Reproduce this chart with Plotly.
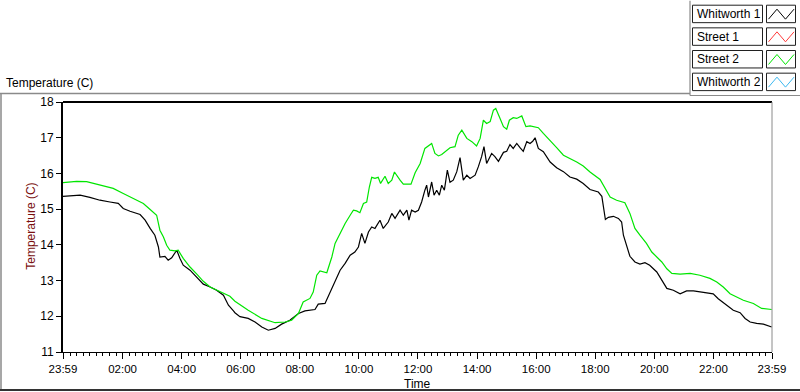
import plotly.graph_objects as go

# ---------------- data (hours since 23:59 start, temperature in C) ----------------
whitworth1_hours = [0.00, 0.58, 0.91, 1.25, 1.59, 1.87, 2.04, 2.27, 2.61, 2.78, 2.95, 3.11, 3.23, 3.28, 3.45,
                    3.56, 3.68, 3.79, 3.85, 3.96, 4.07, 4.30, 4.53, 4.75, 4.98, 5.20, 5.43, 5.60, 5.77, 5.82,
                    5.99, 6.27, 6.50, 6.73, 6.95, 7.18, 7.40, 7.68, 7.97, 8.19, 8.53, 8.64, 8.87, 9.04, 9.21,
                    9.38, 9.55, 9.72, 9.88, 10.00, 10.11, 10.22, 10.34, 10.45, 10.56, 10.73, 10.84, 11.01,
                    11.13, 11.24, 11.41, 11.52, 11.64, 11.71, 11.80, 11.92, 12.03, 12.14, 12.25, 12.31, 12.37,
                    12.48, 12.56, 12.65, 12.74, 12.82, 12.91, 13.01, 13.10, 13.21, 13.33, 13.44, 13.55, 13.67,
                    13.78, 13.95, 14.06, 14.17, 14.25, 14.34, 14.51, 14.62, 14.74, 14.91, 15.02, 15.13, 15.24,
                    15.36, 15.47, 15.58, 15.70, 15.81, 15.90, 15.98, 16.09, 16.26, 16.49, 16.71, 16.94, 17.16,
                    17.39, 17.61, 17.84, 18.12, 18.24, 18.31, 18.36, 18.46, 18.63, 18.80, 18.91, 18.97, 19.08,
                    19.19, 19.36, 19.53, 19.70, 19.86, 20.10, 20.27, 20.44, 20.66, 20.89, 21.11, 21.34, 21.68,
                    22.01, 22.18, 22.47, 22.69, 22.92, 23.09, 23.26, 23.48, 23.71, 23.99]
whitworth1_temp = [15.36, 15.39, 15.33, 15.25, 15.20, 15.16, 15.02, 14.94, 14.85, 14.69, 14.46, 14.27, 13.94,
                   13.66, 13.68, 13.57, 13.64, 13.80, 13.85, 13.62, 13.43, 13.29, 13.10, 12.90, 12.82, 12.73,
                   12.59, 12.31, 12.15, 12.10, 11.99, 11.94, 11.84, 11.70, 11.61, 11.66, 11.78, 11.89, 12.08,
                   12.15, 12.19, 12.34, 12.36, 12.68, 13.01, 13.29, 13.48, 13.71, 13.80, 13.94, 14.32, 14.04,
                   14.36, 14.50, 14.46, 14.69, 14.46, 14.64, 14.88, 14.74, 14.97, 14.83, 14.97, 14.69, 14.97,
                   14.92, 14.97, 15.20, 15.53, 15.67, 15.34, 15.76, 15.39, 15.53, 15.39, 15.67, 15.53, 16.09,
                   15.75, 15.81, 16.05, 16.44, 15.81, 15.95, 15.86, 15.95, 16.19, 16.47, 16.75, 16.28, 16.56,
                   16.47, 16.34, 16.59, 16.62, 16.81, 16.70, 16.84, 16.72, 16.62, 16.89, 16.84, 16.90, 17.00,
                   16.70, 16.61, 16.32, 16.16, 16.05, 15.90, 15.84, 15.72, 15.55, 15.48, 15.36, 14.97, 14.71,
                   14.77, 14.80, 14.74, 14.64, 14.27, 13.94, 13.68, 13.52, 13.46, 13.50, 13.43, 13.24, 13.01,
                   12.78, 12.73, 12.63, 12.71, 12.71, 12.67, 12.63, 12.49, 12.31, 12.17, 12.10, 11.94, 11.84,
                   11.80, 11.78, 11.70]

street2_hours = [0.00, 0.46, 0.80, 1.25, 1.70, 2.04, 2.38, 2.72, 2.95, 3.17, 3.28, 3.40, 3.51, 3.62, 3.79,
                 3.90, 4.07, 4.30, 4.53, 4.75, 4.98, 5.20, 5.43, 5.65, 5.82, 5.99, 6.27, 6.73, 7.18, 7.52,
                 7.74, 7.97, 8.13, 8.36, 8.47, 8.59, 8.70, 8.93, 9.10, 9.21, 9.38, 9.55, 9.72, 9.83, 9.94,
                 10.05, 10.17, 10.28, 10.37, 10.45, 10.56, 10.67, 10.75, 10.90, 11.01, 11.13, 11.22, 11.33,
                 11.41, 11.52, 11.78, 11.92, 12.09, 12.25, 12.37, 12.48, 12.59, 12.71, 12.82, 12.93, 13.10,
                 13.27, 13.38, 13.50, 13.67, 13.84, 14.00, 14.12, 14.23, 14.34, 14.46, 14.57, 14.65, 14.77,
                 14.91, 15.02, 15.11, 15.24, 15.36, 15.53, 15.67, 15.81, 16.09, 16.26, 16.49, 16.71, 16.94,
                 17.16, 17.39, 17.61, 17.84, 18.18, 18.35, 18.52, 18.74, 19.02, 19.19, 19.36, 19.53, 19.75,
                 19.93, 20.10, 20.27, 20.44, 20.61, 20.89, 21.23, 21.56, 21.90, 22.13, 22.35, 22.58, 22.81,
                 23.03, 23.37, 23.65, 23.99]
street2_temp = [15.74, 15.78, 15.77, 15.67, 15.58, 15.44, 15.30, 15.16, 14.99, 14.83, 14.41, 14.22, 13.99,
                13.85, 13.83, 13.85, 13.62, 13.38, 13.18, 12.98, 12.82, 12.73, 12.65, 12.56, 12.42, 12.32,
                12.17, 11.94, 11.82, 11.84, 11.89, 12.08, 12.40, 12.50, 12.68, 13.15, 13.27, 13.22, 13.66,
                14.04, 14.32, 14.60, 14.83, 14.97, 14.95, 14.90, 15.16, 15.20, 15.62, 15.89, 15.86, 15.89,
                15.72, 15.92, 15.72, 15.81, 16.04, 15.90, 15.81, 15.70, 15.70, 16.02, 16.28, 16.70, 16.77,
                16.84, 16.56, 16.49, 16.53, 16.61, 16.72, 16.75, 17.07, 17.21, 16.98, 16.89, 16.77, 16.98,
                17.49, 17.40, 17.45, 17.77, 17.82, 17.59, 17.31, 17.24, 17.49, 17.56, 17.54, 17.61, 17.31,
                17.33, 17.28, 17.12, 16.93, 16.72, 16.51, 16.42, 16.32, 16.21, 16.04, 15.83, 15.58, 15.34,
                15.25, 15.18, 14.88, 14.46, 14.27, 14.04, 13.80, 13.66, 13.52, 13.33, 13.20, 13.18, 13.20,
                13.15, 13.06, 12.96, 12.82, 12.63, 12.54, 12.45, 12.36, 12.22, 12.19]

x_tick_vals = [0.0, 2.0167, 4.0167, 6.0167, 8.0167, 10.0167, 12.0167, 14.0167, 16.0167, 18.0167, 20.0167,
               22.0167, 24.0]
x_tick_text = ["23:59", "02:00", "04:00", "06:00", "08:00", "10:00", "12:00", "14:00", "16:00", "18:00",
               "20:00", "22:00", "23:59"]
y_tick_vals = [11, 12, 13, 14, 15, 16, 17, 18]

legend_names = ["Whitworth 1", "Street 1", "Street 2", "Whitworth 2"]
legend_colors = ["#000000", "#ff3a3a", "#00e600", "#3ab8f0"]

# ---------------- layout helpers (pixel -> paper) ----------------
W, H = 800, 392
L, R, T, B = 63, 772, 101.5, 352


def pxx(x):
    return (x - L) / (R - L)


def pxy(y):
    return (B - y) / (B - T)


FONT = "Liberation Sans"

fig = go.Figure()
fig.add_trace(go.Scatter(x=whitworth1_hours, y=whitworth1_temp, mode="lines",
                         line=dict(color=legend_colors[0], width=1.2), name=legend_names[0]))
fig.add_trace(go.Scatter(x=street2_hours, y=street2_temp, mode="lines",
                         line=dict(color=legend_colors[2], width=1.2), name=legend_names[2]))

minor_vals = [k * 2 / 9 + 1 / 60 for k in range(0, 108)]

fig.update_layout(
    width=W, height=H,
    margin=dict(l=L, r=W - R, t=T, b=H - B),
    paper_bgcolor="white", plot_bgcolor="white",
    showlegend=False,
    font=dict(family=FONT, size=11.5, color="black"),
    xaxis=dict(range=[0, 24], tickmode="array", tickvals=x_tick_vals, ticktext=x_tick_text,
               showgrid=False, zeroline=False, showline=True, linecolor="black", linewidth=1,
               ticks="outside", ticklen=6, tickcolor="black", tickwidth=1,
               minor=dict(tickmode="array", tickvals=minor_vals, ticks="outside", ticklen=3,
                          tickcolor="black", tickwidth=1, showgrid=False),
               tickfont=dict(family=FONT, size=11.5)),
    yaxis=dict(range=[11, 18], tickmode="array", tickvals=y_tick_vals,
               showgrid=False, zeroline=False, showline=True, linecolor="black", linewidth=2,
               ticks="outside", ticklen=5, tickcolor="black", tickwidth=1,
               tickfont=dict(family=FONT, size=12)),
)

shapes = []
# plot frame: top black, right gray
shapes.append(dict(type="line", xref="paper", yref="paper", x0=0, x1=1, y0=1, y1=1,
                   line=dict(color="black", width=2)))
shapes.append(dict(type="line", xref="paper", yref="paper", x0=1, x1=1, y0=0, y1=1,
                   line=dict(color="#8a8a8a", width=1)))
# outer panel lines
shapes.append(dict(type="line", xref="paper", yref="paper", x0=pxx(0), x1=pxx(690), y0=pxy(93), y1=pxy(93),
                   line=dict(color="#8a8a8a", width=1.5)))
shapes.append(dict(type="line", xref="paper", yref="paper", x0=pxx(1), x1=pxx(1), y0=pxy(93), y1=pxy(390),
                   line=dict(color="#8a8a8a", width=1.5)))
shapes.append(dict(type="line", xref="paper", yref="paper", x0=pxx(0), x1=pxx(800), y0=pxy(390), y1=pxy(390),
                   line=dict(color="#333333", width=2)))
shapes.append(dict(type="line", xref="paper", yref="paper", x0=pxx(690), x1=pxx(690), y0=pxy(0), y1=pxy(95),
                   line=dict(color="#8a8a8a", width=1.2)))
shapes.append(dict(type="line", xref="paper", yref="paper", x0=pxx(690), x1=pxx(800), y0=pxy(95), y1=pxy(95),
                   line=dict(color="#8a8a8a", width=1.2)))

annotations = []
# legend
for i, (name, col) in enumerate(zip(legend_names, legend_colors)):
    top = 4.5 + i * 22.7
    bot = top + 17.5
    shapes.append(dict(type="rect", xref="paper", yref="paper", x0=pxx(692.5), x1=pxx(762.5),
                       y0=pxy(bot), y1=pxy(top), line=dict(color="#202020", width=1), fillcolor="white"))
    shapes.append(dict(type="rect", xref="paper", yref="paper", x0=pxx(766.5), x1=pxx(795.5),
                       y0=pxy(bot), y1=pxy(top), line=dict(color="#202020", width=1), fillcolor="white"))
    pts = [(768.5, bot - 3.5), (777, top + 4), (785.5, bot - 3.5), (794, top + 4)]
    path = "M " + " L ".join(f"{pxx(a):.5f},{pxy(b):.5f}" for a, b in pts)
    shapes.append(dict(type="path", xref="paper", yref="paper", path=path,
                       line=dict(color=col, width=1)))
    annotations.append(dict(xref="paper", yref="paper", x=pxx(695), y=pxy((top + bot) / 2),
                            xanchor="left", yanchor="middle", text=name, showarrow=False,
                            font=dict(family=FONT, size=12, color="black")))

# titles
annotations.append(dict(xref="paper", yref="paper", x=pxx(4), y=pxy(82), xanchor="left", yanchor="middle",
                        text="Temperature (C)", showarrow=False, font=dict(family=FONT, size=12, color="black")))
annotations.append(dict(xref="paper", yref="paper", x=pxx(31), y=pxy(226.5), xanchor="center", yanchor="middle",
                        text="Temperature (C)", textangle=-90, showarrow=False,
                        font=dict(family=FONT, size=12, color="#7a1010")))
annotations.append(dict(xref="paper", yref="paper", x=pxx(417.5), y=pxy(384), xanchor="center", yanchor="middle",
                        text="Time", showarrow=False, font=dict(family=FONT, size=12, color="black")))

fig.update_layout(shapes=shapes, annotations=annotations)
fig.write_html("out.html", config={"displayModeBar": False},
               post_script="document.body.style.margin='0px';document.body.style.padding='0px';")
